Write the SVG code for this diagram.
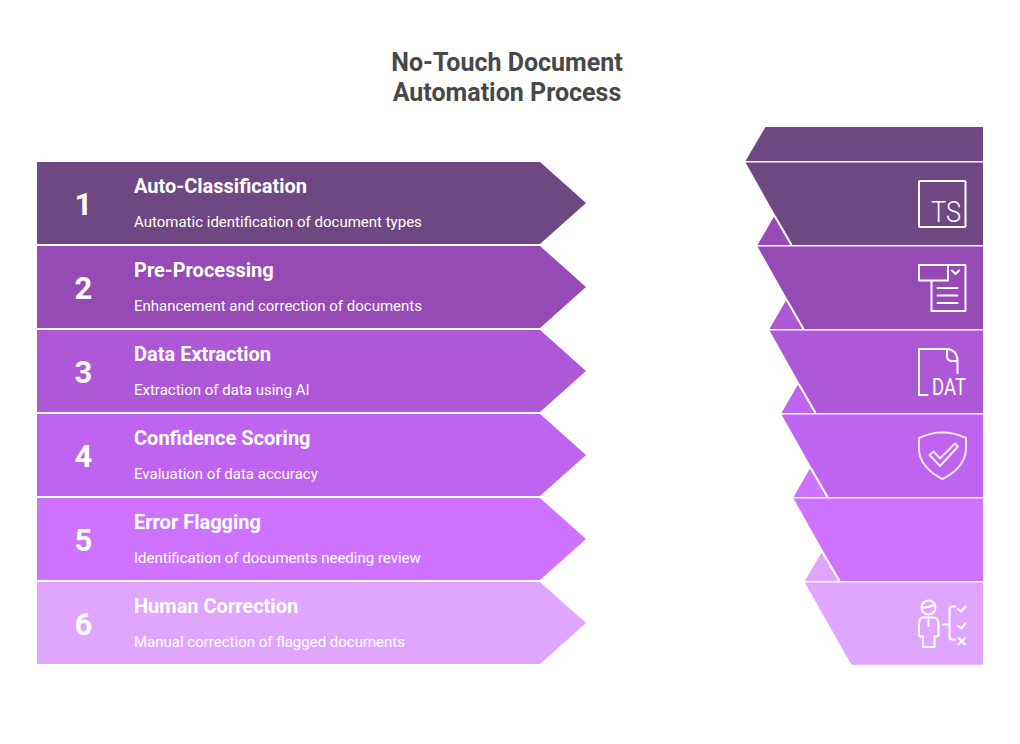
<svg xmlns="http://www.w3.org/2000/svg" width="1020" height="744" viewBox="0 0 1020 744">
<style>
text{font-family:Roboto,"Liberation Sans",sans-serif;fill:#fff}
.title{font-size:25px;font-weight:700;fill:#484848;text-anchor:middle}
.num{font-size:31px;font-weight:700;text-anchor:middle}
.head{font-size:20px;font-weight:700}
.desc{font-size:15px;font-weight:400}
.ic{fill:none;stroke:#fff;stroke-width:2;stroke-linecap:round;stroke-linejoin:round}
.sep{stroke:#fff;stroke-width:2;fill:none}
.c1{fill:#6f4782}.c2{fill:#964ab6}.c3{fill:#ad58d6}.c4{fill:#bf64ee}.c5{fill:#ce73ff}.c6{fill:#e0a6ff}
</style>
<rect width="1020" height="744" fill="#fff"/>
<g id="title">
<text class="title" x="507" y="70.500">No-Touch Document</text>
<text class="title" x="507" y="101">Automation Process</text>
</g>
<g id="step-1"><polygon class="c1" points="37,162 540,162 586,203 540,244 37,244"/>
<text class="num" x="83.500" y="215">1</text><text class="head" x="134" y="193">Auto-Classification</text><text class="desc" x="134" y="227">Automatic identification of document types</text></g>
<g id="step-2"><polygon class="c2" points="37,246 540,246 586,287 540,328 37,328"/>
<text class="num" x="83.500" y="299">2</text><text class="head" x="134" y="277">Pre-Processing</text><text class="desc" x="134" y="311">Enhancement and correction of documents</text></g>
<g id="step-3"><polygon class="c3" points="37,330 540,330 586,371 540,412 37,412"/>
<text class="num" x="83.500" y="383">3</text><text class="head" x="134" y="361">Data Extraction</text><text class="desc" x="134" y="395">Extraction of data using AI</text></g>
<g id="step-4"><polygon class="c4" points="37,414 540,414 586,455 540,496 37,496"/>
<text class="num" x="83.500" y="467">4</text><text class="head" x="134" y="445">Confidence Scoring</text><text class="desc" x="134" y="479">Evaluation of data accuracy</text></g>
<g id="step-5"><polygon class="c5" points="37,498 540,498 586,539 540,580 37,580"/>
<text class="num" x="83.500" y="551">5</text><text class="head" x="134" y="529">Error Flagging</text><text class="desc" x="134" y="563">Identification of documents needing review</text></g>
<g id="step-6"><polygon class="c6" points="37,582 540,582 586,623 540,664 37,664"/>
<text class="num" x="83.500" y="635">6</text><text class="head" x="134" y="613">Human Correction</text><text class="desc" x="134" y="647">Manual correction of flagged documents</text></g>

<g id="panel-top"><polygon class="c1" points="745.500,161 765.500,127 983,127 983,161"/></g>
<g id="panel-1">
<polygon class="c2" points="757.500,245 774,216.500 792,245"/>
<polygon class="c1" points="745.500,162.500 983,162.500 983,245 792,245"/>
<line class="sep" x1="775" y1="216.500" x2="791.500" y2="245"/>
<rect class="ic" x="919" y="181" width="46.500" height="46" rx="1"/>
<text x="931" y="222" font-size="30" font-weight="300" textLength="30" lengthAdjust="spacingAndGlyphs">TS</text>
</g>
<g id="panel-2">
<polygon class="c3" points="769.500,329 786,300.500 804,329"/>
<polygon class="c2" points="757.500,246.500 983,246.500 983,329 804,329"/>
<line class="sep" x1="787" y1="300.500" x2="803.500" y2="329"/>
<path class="ic" d="M919 265H965.500V311H931.500V280.500M919 265V280.500H948V265"/>
<path class="ic" d="M952 270.500L955.500 274L959 270.500M937.500 288H957.500M937.500 295.500H957.500M937.500 303H957.500"/>
</g>
<g id="panel-3">
<polygon class="c4" points="781.500,413 798,384.500 816,413"/>
<polygon class="c3" points="769.500,330.500 983,330.500 983,413 816,413"/>
<line class="sep" x1="799" y1="384.500" x2="815.500" y2="413"/>
<path class="ic" d="M927.500 395H919V349H947C953 349 957.500 354 957.500 360V373M947 349V356C947 359 949 361 952 361H957.500"/>
<text x="932" y="395" font-size="24.500" font-weight="400" textLength="34" lengthAdjust="spacingAndGlyphs">DAT</text>
</g>
<g id="panel-4">
<polygon class="c5" points="793.500,497 810,468.500 828,497"/>
<polygon class="c4" points="781.500,414.500 983,414.500 983,497 828,497"/>
<line class="sep" x1="811" y1="468.500" x2="827.500" y2="497"/>
<path class="ic" stroke-opacity=".85" d="M919 438C934 431 951 431 966 438V449C966 462 955 473 942.500 479C930 473 919 462 919 449Z"/>
<path class="ic" stroke-opacity=".85" d="M929.500 455L933.500 451.500L940 458.500L955 443.500L958 446.500L940 466Z"/>
</g>
<g id="panel-5">
<polygon class="c6" points="804.800,581 821.500,552.500 840,581"/>
<polygon class="c5" points="793.500,498.500 983,498.500 983,581 840,581"/>
<line class="sep" x1="822.500" y1="552.500" x2="839.500" y2="581"/>
</g>
<g id="panel-6">
<polygon class="c6" points="804.800,582.500 983,582.500 983,664.800 851.500,664.800"/>
<circle class="ic" cx="928.500" cy="607.500" r="7"/>
<path class="ic" d="M922 607C926 609 931 606 935 604.500"/>
<path class="ic" d="M923 617.500H934C937 618 938.500 621 938.500 624V635C938.500 636 937.500 636.500 936 636.500H934.500V647H923V636.500H921C919.500 636.500 919 636 919 635V624C919 621 920 618 923 617.500Z"/>
<path class="ic" d="M928.500 620V626M943 624.500H949.500M955.500 606.500H952C950 606.500 949.500 608 949.500 610V636C949.500 638 950 639.500 952 639.500H955.500"/>
<path class="ic" d="M958 609L961 611.500L965.500 606.500M958 626L961 628.500L965.500 623.500M958.500 638L965 644.500M965 638L958.500 644.500"/>
</g>
</svg>
